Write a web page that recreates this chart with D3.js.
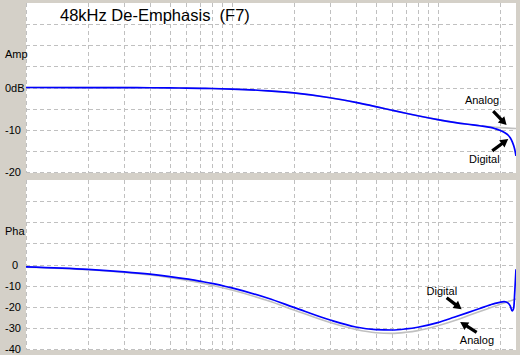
<!DOCTYPE html>
<html lang="en">
<head>
<meta charset="UTF-8">
<title>48kHz De-Emphasis (F7)</title>
<script src="https://d3js.org/d3.v7.min.js"></script>
<style>
  html, body { margin: 0; padding: 0; background: #d4d0c8; overflow: hidden; }
  svg { display: block; }
  text { font-family: "Liberation Sans", Arial, sans-serif; fill: #000; }
</style>
</head>
<body>
<div id="chart"></div>
<script>
// analog reference response (Hz, dB, degrees)
let analogFreq  = [100, 200, 300, 500, 700, 1000, 1500, 2000, 3000, 4000, 5000, 6000, 7000, 8000, 10000, 12000, 14000, 16000, 18000, 20000, 22000, 24000];
let analogAmp   = [0, -0.02, -0.04, -0.1, -0.19, -0.37, -0.79, -1.29, -2.43, -3.54, -4.53, -5.38, -6.09, -6.69, -7.6, -8.24, -8.7, -9.04, -9.3, -9.49, -9.62, -9.7];
let analogPhase = [-1.3, -2.5, -3.8, -6.2, -8.6, -12.1, -17.2, -21.5, -27.5, -30.8, -32.3, -32.6, -32.1, -31.3, -29.0, -26.6, -24.3, -22.3, -20.5, -18.9, -17.5, -16.3];

// digital filter response
let digitalFreq  = [100, 200, 300, 400, 500, 600, 700, 800, 1000, 1500, 2000, 3000, 4000, 5000, 6000, 7000, 8000, 10000, 12000, 14000, 16000, 18000, 19000, 20000, 21000, 22000, 22500, 23000, 23400, 23700, 24000];
let digitalAmp   = [0, -0.02, -0.04, -0.06, -0.1, -0.14, -0.19, -0.24, -0.37, -0.79, -1.29, -2.43, -3.54, -4.53, -5.38, -6.09, -6.69, -7.6, -8.24, -8.7, -9.06, -9.45, -9.75, -10.1, -10.6, -11.3, -11.9, -12.8, -13.8, -14.8, -16.2];
let digitalPhase = [-1.1, -2.3, -3.5, -4.6, -5.7, -6.8, -7.9, -8.9, -11.1, -16.0, -20.3, -26.3, -29.6, -30.8, -31.0, -30.5, -29.7, -27.5, -25.0, -22.8, -20.8, -19.1, -18.4, -17.9, -17.6, -18.3, -19.6, -22.0, -20.5, -12.0, -2.3];

let gridFreq = [100, 200, 300, 400, 500, 600, 700, 800, 900, 1000, 2000, 3000, 4000, 5000, 6000, 7000, 8000, 9000, 10000, 20000];
let ampGrid = [-20, -15, -10, -5, 0, 5, 10, 15];
let ampLabelValues = [0, -10, -20];
let ampLabelText = ["0dB", "-10", "-20"];
let phaGrid = [-40, -30, -20, -10, 0, 10, 20, 30];
let phaLabelValues = [0, -10, -20, -30, -40];
let phaLabelText = ["0", "-10", "-20", "-30", "-40"];

let title = "48kHz De-Emphasis  (F7)";

// annotations: text at [freq, value], arrow from tail to tip
let ampNotes = [
  { text: "Analog",  at: [13550, -4.0],  tail: [18600, -5.6],  tip: [21600, -8.9] },
  { text: "Digital", at: [14200, -17.9], tail: [18400, -15.0], tip: [22000, -12.2] }
];
let phaNotes = [
  { text: "Digital", at: [8830, -14.4],  tail: [11050, -15.7], tip: [13060, -21.2] },
  { text: "Analog",  at: [12800, -37.4], tail: [15450, -32.1], tip: [12850, -27.2] }
];

let width = 520, height = 355;
let left = 26, right = 516;

let svg = d3.select("#chart").append("svg")
  .attr("width", width)
  .attr("height", height);

svg.append("rect").attr("width", width).attr("height", height).attr("fill", "#d4d0c8");

let x = d3.scaleLog().domain([100, 24000]).range([left, right]);

let panels = [
  { id: "amp", top: 3, bottom: 173, y: d3.scaleLinear().domain([-20, 20]).range([172, 3]),
    grid: ampGrid, labelValues: ampLabelValues, labelText: ampLabelText, name: "Amp", nameAt: 8,
    analog: analogAmp, digital: digitalAmp, notes: ampNotes },
  { id: "pha", top: 180, bottom: 350, y: d3.scaleLinear().domain([-40, 40]).range([349, 180]),
    grid: phaGrid, labelValues: phaLabelValues, labelText: phaLabelText, name: "Pha", nameAt: 16,
    analog: analogPhase, digital: digitalPhase, notes: phaNotes }
];

function arrowPath(x0, y0, x1, y1) {
  let dx = x1 - x0, dy = y1 - y0;
  let len = Math.sqrt(dx * dx + dy * dy);
  let ux = dx / len, uy = dy / len;
  let px = -uy, py = ux;
  let head = 8, hw = 4.5, sw = 1.6;
  let bx = x1 - ux * head, by = y1 - uy * head;
  let pts = [
    [x0 + px * sw, y0 + py * sw],
    [bx + px * sw, by + py * sw],
    [bx + px * hw, by + py * hw],
    [x1, y1],
    [bx - px * hw, by - py * hw],
    [bx - px * sw, by - py * sw],
    [x0 - px * sw, y0 - py * sw]
  ];
  return "M" + pts.map(p => p.join(",")).join("L") + "Z";
}

panels.forEach(p => {
  let g = svg.append("g");
  let y = p.y;

  g.append("clipPath").attr("id", "clip-" + p.id)
    .append("rect").attr("x", left).attr("y", p.top).attr("width", right - left).attr("height", p.bottom - p.top);

  g.append("rect")
    .attr("x", left).attr("y", p.top)
    .attr("width", right - left).attr("height", p.bottom - p.top)
    .attr("fill", "#fff");

  // dashed grid
  g.selectAll("line.v").data(gridFreq).enter().append("line")
    .attr("class", "v")
    .attr("x1", d => Math.round(x(d)) + 0.5).attr("x2", d => Math.round(x(d)) + 0.5)
    .attr("y1", p.top).attr("y2", p.bottom)
    .attr("stroke", "#c0c0c0").attr("stroke-dasharray", "4,3")
    .attr("shape-rendering", "crispEdges");

  g.selectAll("line.h").data(p.grid).enter().append("line")
    .attr("class", "h")
    .attr("x1", left).attr("x2", right)
    .attr("y1", d => Math.round(y(d)) + 0.5).attr("y2", d => Math.round(y(d)) + 0.5)
    .attr("stroke", "#c0c0c0").attr("stroke-dasharray", "4,3")
    .attr("shape-rendering", "crispEdges");

  // axis labels
  svg.selectAll("text.lab-" + p.id).data(p.labelValues).enter().append("text")
    .attr("class", "lab-" + p.id)
    .attr("x", (d, i) => p.labelText[i] === "0" ? 12 : 5)
    .attr("y", d => y(d) + 4)
    .attr("font-size", 11)
    .text((d, i) => p.labelText[i]);

  svg.append("text")
    .attr("x", 5).attr("y", y(p.nameAt) + 4)
    .attr("font-size", 11)
    .text(p.name);

  let line = d3.line().x(d => x(d[0])).y(d => y(d[1])).curve(d3.curveMonotoneX);

  let curves = g.append("g").attr("clip-path", "url(#clip-" + p.id + ")");

  curves.append("path")
    .attr("d", line(d3.zip(analogFreq, p.analog)))
    .attr("fill", "none").attr("stroke", "#c0c0c0").attr("stroke-width", 1.6);

  curves.append("path")
    .attr("d", line(d3.zip(digitalFreq, p.digital)))
    .attr("fill", "none").attr("stroke", "#0000ff").attr("stroke-width", 1.7);

  // annotation arrows
  p.notes.forEach(n => {
    svg.append("text")
      .attr("x", x(n.at[0])).attr("y", y(n.at[1]))
      .attr("font-size", 11)
      .text(n.text);
    svg.append("path")
      .attr("d", arrowPath(x(n.tail[0]), y(n.tail[1]), x(n.tip[0]), y(n.tip[1])))
      .attr("fill", "#000");
  });
});

svg.append("text")
  .attr("x", 60).attr("y", 20.5)
  .attr("font-size", 16.5)
  .style("white-space", "pre")
  .text(title);
</script>
</body>
</html>
